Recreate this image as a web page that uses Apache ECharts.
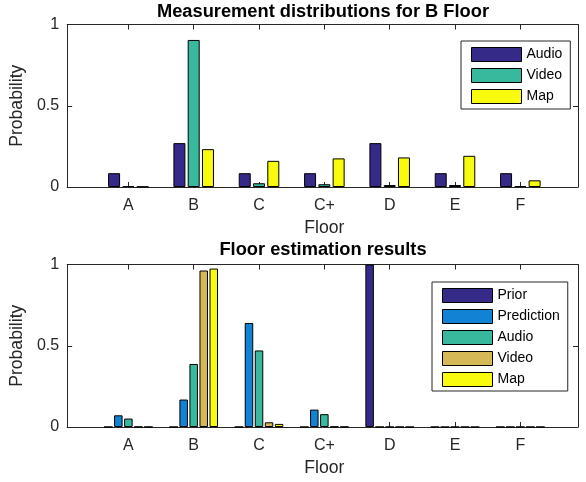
<!DOCTYPE html>
<html>
<head>
<meta charset="utf-8">
<script src="https://cdn.jsdelivr.net/npm/echarts@6/dist/echarts.min.js"></script>
<style>html,body{margin:0;padding:0;background:#fff}#c{width:586px;height:482px}</style>
</head>
<body>
<div id="c"></div>
<script>
// ---- data ----
const floors = ['A', 'B', 'C', 'C+', 'D', 'E', 'F'];
const yTicks = [0, 0.5, 1];

// top: measurement distributions for B floor
const topAudio = [0.085, 0.27, 0.085, 0.085, 0.27, 0.085, 0.085];
const topVideo = [0.006, 0.905, 0.023, 0.017, 0.012, 0.012, 0.006];
const topMap   = [0.002, 0.233, 0.161, 0.176, 0.182, 0.192, 0.041];

// bottom: floor estimation results
const botPrior      = [0, 0, 0, 0, 1, 0, 0];
const botPrediction = [0.072, 0.169, 0.640, 0.107, 0, 0, 0];
const botAudio      = [0.052, 0.388, 0.471, 0.079, 0, 0, 0];
const botVideo      = [0.001, 0.963, 0.029, 0.002, 0, 0, 0];
const botMap        = [0.0005, 0.975, 0.019, 0.001, 0, 0, 0];

const topNames = ['Audio', 'Video', 'Map'];
const topColors = ['#352a87', '#38b99e', '#f9fb0e'];
const botNames = ['Prior', 'Prediction', 'Audio', 'Video', 'Map'];
const botColors = ['#352a87', '#1283d4', '#38b99e', '#d5b956', '#f9fb0e'];

const FONT = "'Liberation Sans', Arial, Helvetica, sans-serif";
const AX = '#262626';

const chart = echarts.init(document.getElementById('c'), null, {renderer: 'canvas'});

function boxAxesX(grid) {
  return [
    {gridIndex: grid, type: 'value', min: 0, max: 1, position: 'bottom',
     axisLine: {show: true, onZero: false, lineStyle: {color: AX, width: 1}},
     axisTick: {show: false}, axisLabel: {show: false}, splitLine: {show: false}},
    {gridIndex: grid, type: 'value', min: 0, max: 1, position: 'top',
     axisLine: {show: true, onZero: false, lineStyle: {color: AX, width: 1}},
     axisTick: {show: false}, axisLabel: {show: false}, splitLine: {show: false}}
  ];
}
function catAxesX(grid) {
  return [
    {gridIndex: grid, type: 'category', data: floors, position: 'bottom',
     axisLine: {show: false},
     axisTick: {show: true, inside: true, alignWithLabel: true, length: 5, lineStyle: {color: AX}},
     axisLabel: {show: true, margin: 11, fontSize: 16, lineHeight: 16, color: AX, fontFamily: FONT},
     name: 'Floor', nameLocation: 'middle', nameGap: 32,
     nameTextStyle: {fontSize: 17.6, lineHeight: 18, color: AX, fontFamily: FONT},
     splitLine: {show: false}},
    {gridIndex: grid, type: 'category', data: floors, position: 'top',
     axisLine: {show: false},
     axisTick: {show: true, inside: true, alignWithLabel: true, length: 5, lineStyle: {color: AX}},
     axisLabel: {show: false}, splitLine: {show: false}}
  ];
}
function boxAxesY(grid) {
  return [
    {gridIndex: grid, type: 'value', min: yTicks[0], max: yTicks[yTicks.length - 1], interval: 0.5, position: 'left',
     axisLine: {show: true, onZero: false, lineStyle: {color: AX, width: 1}},
     axisTick: {show: true, inside: true, length: 5, lineStyle: {color: AX}},
     axisLabel: {show: true, margin: 8, fontSize: 16, color: AX, fontFamily: FONT,
                 formatter: v => String(v)},
     name: 'Probability', nameLocation: 'middle', nameGap: 36, nameRotate: 90,
     nameTextStyle: {fontSize: 17.6, lineHeight: 18, color: AX, fontFamily: FONT},
     splitLine: {show: false}},
    {gridIndex: grid, type: 'value', min: 0, max: 1, interval: 0.5, position: 'right',
     axisLine: {show: true, onZero: false, lineStyle: {color: AX, width: 1}},
     axisTick: {show: true, inside: true, length: 5, lineStyle: {color: AX}},
     axisLabel: {show: false}, splitLine: {show: false}}
  ];
}
function hiddenY(grid) {
  return {gridIndex: grid, type: 'value', min: 0, max: 1, show: false, splitLine: {show: false}};
}

function barSeries(names, colors, arrays, xi, yi, width, gap) {
  return names.map((n, i) => ({
    name: n, type: 'bar', xAxisIndex: xi, yAxisIndex: yi,
    data: arrays[i], barWidth: width, barGap: gap,
    itemStyle: {color: colors[i], borderColor: '#000', borderWidth: 1},
    emphasis: {disabled: true}
  }));
}

const option = {
  animation: false,
  backgroundColor: '#fff',
  title: [
    {text: 'Measurement distributions for B Floor', left: 323, top: 1, textAlign: 'center', padding: 0,
     textStyle: {fontSize: 18.3, fontWeight: 'bold', color: '#000', fontFamily: FONT, lineHeight: 21}},
    {text: 'Floor estimation results', left: 323, top: 239, textAlign: 'center', padding: 0,
     textStyle: {fontSize: 18.3, fontWeight: 'bold', color: '#000', fontFamily: FONT, lineHeight: 21}}
  ],
  grid: [
    {left: 62, top: 24.5, width: 516, height: 162.5},
    {left: 95.7, top: 24.5, width: 457.3, height: 162.5},
    {left: 62, top: 264.5, width: 516, height: 162.5},
    {left: 95.7, top: 264.5, width: 457.3, height: 162.5}
  ],
  xAxis: [].concat(boxAxesX(0), catAxesX(1), boxAxesX(2), catAxesX(3)),
  yAxis: [].concat(boxAxesY(0), [hiddenY(1)], boxAxesY(2), [hiddenY(3)]),
  legend: [
    {orient: 'vertical', left: 461, top: 41, itemWidth: 50, itemHeight: 14, itemGap: 6,
     padding: [6, 8, 5, 10], borderColor: AX, borderWidth: 1, backgroundColor: '#fff',
     icon: 'rect', selectedMode: false,
     textStyle: {fontSize: 14, color: '#000', fontFamily: FONT},
     itemStyle: {borderColor: '#000', borderWidth: 1},
     data: topNames.map((n, i) => ({name: n, itemStyle: {color: topColors[i], borderColor: '#000', borderWidth: 1}}))},
    {orient: 'vertical', left: 432, top: 282, itemWidth: 50, itemHeight: 14, itemGap: 6,
     padding: [6, 8, 4, 10], borderColor: AX, borderWidth: 1, backgroundColor: '#fff',
     icon: 'rect', selectedMode: false,
     textStyle: {fontSize: 14, color: '#000', fontFamily: FONT},
     itemStyle: {borderColor: '#000', borderWidth: 1},
     data: botNames.map((n, i) => ({name: n, itemStyle: {color: botColors[i], borderColor: '#000', borderWidth: 1}}))}
  ],
  series: [].concat(
    barSeries(topNames, topColors, [topAudio, topVideo, topMap], 2, 2, 12, '19%'),
    barSeries(botNames, botColors, [botPrior, botPrediction, botAudio, botVideo, botMap], 6, 5, 8.5, '18%')
  )
};
chart.setOption(option);
</script>
</body>
</html>
